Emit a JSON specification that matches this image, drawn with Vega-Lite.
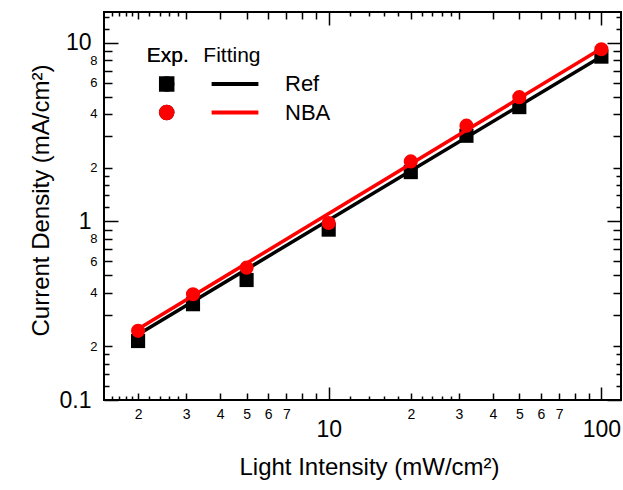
{
  "$schema": "https://vega.github.io/schema/vega-lite/v6.json",
  "width": 517,
  "height": 388,
  "autosize": {"type": "none"},
  "padding": {"left": 104, "top": 12, "right": 2, "bottom": 90},
  "background": "white",
  "config": {
    "view": {"stroke": "black", "strokeWidth": 2},
    "font": "Liberation Sans",
    "axis": {
      "domain": false, "grid": false,
      "labelFont": "Liberation Sans", "titleFont": "Liberation Sans",
      "labelColor": "black", "titleColor": "black", "tickColor": "black",
      "tickWidth": 1.5, "titleFontWeight": "normal",
      "labelFlush": false, "labelOverlap": false, "labelBound": false
    },
    "legend": {
      "titleFont": "Liberation Sans", "labelFont": "Liberation Sans",
      "titleColor": "black", "labelColor": "black", "titleFontWeight": "normal"
    }
  },
  "datasets": {
    "exp": [
      {"x": 2, "y": 0.214, "series": "Ref"},
      {"x": 3.18, "y": 0.344, "series": "Ref"},
      {"x": 5, "y": 0.47, "series": "Ref"},
      {"x": 10, "y": 0.9, "series": "Ref"},
      {"x": 20, "y": 1.89, "series": "Ref"},
      {"x": 32, "y": 3.02, "series": "Ref"},
      {"x": 50, "y": 4.37, "series": "Ref"},
      {"x": 100, "y": 8.38, "series": "Ref"},
      {"x": 2, "y": 0.244, "series": "NBA"},
      {"x": 3.18, "y": 0.391, "series": "NBA"},
      {"x": 5, "y": 0.551, "series": "NBA"},
      {"x": 10, "y": 0.98, "series": "NBA"},
      {"x": 20, "y": 2.17, "series": "NBA"},
      {"x": 32, "y": 3.44, "series": "NBA"},
      {"x": 50, "y": 4.97, "series": "NBA"},
      {"x": 100, "y": 9.22, "series": "NBA"}
    ],
    "fit": [
      {"x": 2, "y": 0.233, "model": "Ref"},
      {"x": 100, "y": 8.4, "model": "Ref"},
      {"x": 2, "y": 0.25, "model": "NBA"},
      {"x": 100, "y": 9.3, "model": "NBA"}
    ]
  },
  "layer": [
    {
      "data": {"name": "exp"},
      "transform": [{"filter": "datum.series == 'Ref'"}],
      "mark": {"type": "point", "filled": true, "opacity": 1, "size": 200},
      "encoding": {
        "x": {
          "field": "x", "type": "quantitative",
          "scale": {"type": "log", "domain": [1.5, 118], "nice": false},
          "axis": {
            "orient": "bottom",
            "values": [1.6,1.7,1.8,1.9,2,2.2,2.4,2.6,2.8,3,4,5,6,7,8,9,10,12,14,16,18,20,22,24,26,28,30,40,50,60,70,80,90,100],
            "title": "Light Intensity (mW/cm²)",
            "titleFontSize": 24, "titleX": 265, "titleY": 67, "titleBaseline": "middle", "titleAlign": "center",
            "labelExpr": "datum.value==10?'10':datum.value==100?'100':(indexof([2,3,4,5,6,7],datum.value)>=0?''+datum.value:(indexof([20,30,40,50,60,70],datum.value)>=0?''+(datum.value/10):''))",
            "labelFontSize": {"condition": {"test": "datum.value==10||datum.value==100", "value": 23}, "value": 14},
            "labelPadding": {"condition": {"test": "datum.value==10||datum.value==100", "value": 42}, "value": 21},
            "labelBaseline": "middle",
            "tickSize": {"expr": "indexof([10,100],datum.value)>=0 ? -13 : (indexof([1.6,1.7,1.8,1.9,2.2,2.4,2.6,2.8,12,14,16,18,22,24,26,28],datum.value)>=0 ? -4 : -7)"}
          }
        },
        "y": {
          "field": "y", "type": "quantitative",
          "scale": {"type": "log", "domain": [0.1, 14.9], "nice": false},
          "axis": {
            "orient": "left",
            "values": [0.1,0.12,0.14,0.16,0.18,0.2,0.3,0.4,0.5,0.6,0.7,0.8,0.9,1,1.2,1.4,1.6,1.8,2,3,4,5,6,7,8,9,10,12,14],
            "title": "Current Density (mA/cm²)",
            "titleFontSize": 24, "titleX": -63, "titleY": 188, "titleBaseline": "middle", "titleAlign": "center", "titleAngle": -90,
            "labelExpr": "datum.value==0.1?'0.1':datum.value==1?'1':datum.value==10?'10':(indexof([0.2,0.4,0.6,0.8],datum.value)>=0?''+round(datum.value*10):(indexof([2,4,6,8],datum.value)>=0?''+datum.value:''))",
            "labelFontSize": {"condition": {"test": "datum.value==0.1||datum.value==1||datum.value==10", "value": 23}, "value": 13},
            "labelPadding": {"condition": {"test": "datum.value==0.1||datum.value==1||datum.value==10", "value": 27}, "value": 15},
            "labelBaseline": "middle",
            "tickSize": {"expr": "indexof([0.1,1,10],datum.value)>=0 ? -14 : (indexof([0.12,0.14,0.16,0.18,1.2,1.4,1.6,1.8,12,14],datum.value)>=0 ? -5 : -8)"}
          }
        },
        "fill": {
          "field": "series", "type": "nominal", "sort": ["Ref", "NBA"],
          "scale": {"range": ["#000000", "#ff0000"]},
          "legend": {
            "title": "Exp.", "orient": "none", "legendX": 42.7, "legendY": 33,
            "labelExpr": "''", "titleFontSize": 21, "titleFontWeight": "normal", "labelFontSize": 22,
            "symbolSize": 240, "symbolOffset": 9, "rowPadding": 6.5, "titlePadding": 7,
            "symbolStrokeWidth": 0, "symbolOpacity": 1
          }
        },
        "shape": {
          "field": "series", "type": "nominal", "sort": ["Ref", "NBA"],
          "scale": {"range": ["square", "circle"]},
          "legend": {
            "title": "Exp.", "orient": "none", "legendX": 42.7, "legendY": 33,
            "labelExpr": "''", "titleFontSize": 21, "titleFontWeight": "normal", "labelFontSize": 22,
            "symbolSize": 240, "symbolOffset": 9, "rowPadding": 6.5, "titlePadding": 7,
            "symbolStrokeWidth": 0, "symbolOpacity": 1
          }
        }
      }
    },
    {
      "data": {"name": "fit"},
      "transform": [{"filter": "datum.model == 'Ref'"}],
      "mark": {"type": "line", "strokeWidth": 3.5},
      "encoding": {
        "x": {
          "field": "x", "type": "quantitative",
          "scale": {"type": "log", "domain": [1.5, 118], "nice": false},
          "axis": {
            "orient": "top", "title": null, "labels": false,
            "values": [1.6,1.7,1.8,1.9,2,2.2,2.4,2.6,2.8,3,4,5,6,7,8,9,10,12,14,16,18,20,22,24,26,28,30,40,50,60,70,80,90,100],
            "tickSize": {"expr": "indexof([10,100],datum.value)>=0 ? -13 : (indexof([1.6,1.7,1.8,1.9,2.2,2.4,2.6,2.8,12,14,16,18,22,24,26,28],datum.value)>=0 ? -4 : -7)"}
          }
        },
        "y": {
          "field": "y", "type": "quantitative",
          "scale": {"type": "log", "domain": [0.1, 14.9], "nice": false},
          "axis": {
            "orient": "right", "title": null, "labels": false,
            "values": [0.1,0.12,0.14,0.16,0.18,0.2,0.3,0.4,0.5,0.6,0.7,0.8,0.9,1,1.2,1.4,1.6,1.8,2,3,4,5,6,7,8,9,10,12,14],
            "tickSize": {"expr": "indexof([0.1,1,10],datum.value)>=0 ? -14 : (indexof([0.12,0.14,0.16,0.18,1.2,1.4,1.6,1.8,12,14],datum.value)>=0 ? -5 : -8)"}
          }
        },
        "stroke": {
          "field": "model", "type": "nominal",
          "scale": {"domain": ["Ref", "NBA"], "range": ["#000000", "#ff0000"]},
          "legend": {
            "title": "Fitting", "orient": "none", "legendX": 99.3, "legendY": 33,
            "symbolType": "M-2.5,0H2.5", "symbolSize": 350, "symbolStrokeWidth": 4,
            "symbolOffset": 20.2, "labelOffset": 38.5,
            "titleFontSize": 21, "titleFontWeight": "normal", "labelFontSize": 22, "rowPadding": 5.6, "titlePadding": 6.5
          }
        }
      }
    },
    {
      "data": {"name": "fit"},
      "transform": [{"filter": "datum.model == 'NBA'"}],
      "mark": {"type": "line", "strokeWidth": 3.5},
      "encoding": {
        "x": {"field": "x", "type": "quantitative", "scale": {"type": "log", "domain": [1.5, 118], "nice": false}, "axis": null},
        "y": {"field": "y", "type": "quantitative", "scale": {"type": "log", "domain": [0.1, 14.9], "nice": false}, "axis": null},
        "stroke": {"field": "model", "type": "nominal", "scale": {"domain": ["Ref", "NBA"], "range": ["#000000", "#ff0000"]}}
      }
    },
    {
      "data": {"name": "exp"},
      "transform": [{"filter": "datum.series == 'NBA'"}],
      "mark": {"type": "point", "filled": true, "opacity": 1, "size": 200},
      "encoding": {
        "x": {"field": "x", "type": "quantitative", "scale": {"type": "log", "domain": [1.5, 118], "nice": false}, "axis": null},
        "y": {"field": "y", "type": "quantitative", "scale": {"type": "log", "domain": [0.1, 14.9], "nice": false}, "axis": null},
        "fill": {"field": "series", "type": "nominal", "sort": ["Ref", "NBA"], "scale": {"range": ["#000000", "#ff0000"]}, "legend": null},
        "shape": {"field": "series", "type": "nominal", "sort": ["Ref", "NBA"], "scale": {"range": ["square", "circle"]}, "legend": null}
      }
    }
  ],
  "resolve": {"axis": {"x": "independent", "y": "independent"}}
}
